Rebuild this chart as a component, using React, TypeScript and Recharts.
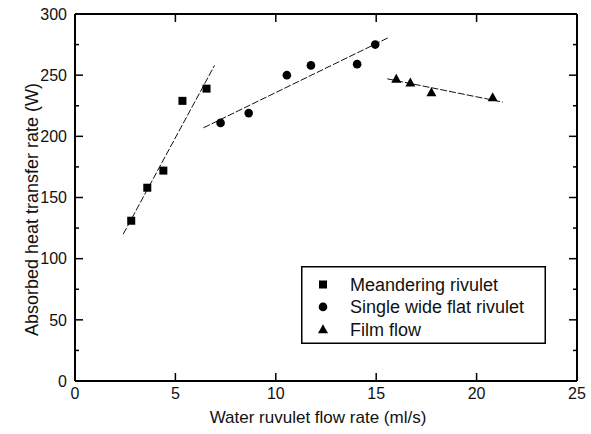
import { ScatterChart, Scatter, XAxis, YAxis, Legend, Label } from 'recharts';

// measured points
const meandering = [
    { x: 2.8, y: 131 },
    { x: 3.6, y: 158 },
    { x: 4.4, y: 172 },
    { x: 5.35, y: 229 },
    { x: 6.55, y: 239 },
];
const singleWide = [
    { x: 7.25, y: 211 },
    { x: 8.65, y: 219 },
    { x: 10.55, y: 250 },
    { x: 11.75, y: 258 },
    { x: 14.05, y: 259 },
    { x: 14.95, y: 275 },
];
const filmFlow = [
    { x: 16.0, y: 247 },
    { x: 16.7, y: 244 },
    { x: 17.75, y: 236 },
    { x: 20.8, y: 232 },
];

// fitted lines (end points)
const fitMeandering = [{ x: 2.4, y: 120 }, { x: 6.95, y: 258 }];
const fitSingleWide = [{ x: 6.4, y: 207 }, { x: 15.65, y: 281 }];
const fitFilm = [{ x: 15.55, y: 247 }, { x: 21.3, y: 228 }];

const xTicks = [0, 5, 10, 15, 20, 25];
const yTicks = [0, 25, 50, 75, 100, 125, 150, 175, 200, 225, 250, 275, 300];

const legendItems = [
    { name: 'Meandering rivulet', shape: 'square' },
    { name: 'Single wide flat rivulet', shape: 'circle' },
    { name: 'Film flow', shape: 'triangle' },
];

const FONT = 'Arial, "Liberation Sans", sans-serif';

function Marker({ kind, cx, cy }: { kind: string; cx: number; cy: number }) {
    if (kind === 'square') return <rect x={cx - 4} y={cy - 4} width={8} height={8} fill="#000" />;
    if (kind === 'circle') return <circle cx={cx} cy={cy} r={4.3} fill="#000" />;
    return <polygon points={`${cx - 5},${cy + 4} ${cx + 5},${cy + 4} ${cx},${cy - 5}`} fill="#000" />;
}

// ticks point into the plot, like the original
const LeftTick = (props: any) => {
    const { x, y, payload } = props;
    const major = payload.value % 50 === 0;
    return (
        <g>
            <line x1={x} y1={y} x2={x + (major ? 8 : 4)} y2={y} stroke="#000" strokeWidth={1.5} />
            {major && (
                <text x={x - 8} y={y} dy="0.36em" textAnchor="end" fontSize={16} fontFamily={FONT} fill="#111">
                    {payload.value}
                </text>
            )}
        </g>
    );
};

const RightTick = (props: any) => {
    const { x, y, payload } = props;
    const major = payload.value % 50 === 0;
    return <line x1={x} y1={y} x2={x - (major ? 8 : 4)} y2={y} stroke="#000" strokeWidth={1.5} />;
};

const BottomTick = (props: any) => {
    const { x, y, payload } = props;
    return (
        <g>
            <line x1={x} y1={y} x2={x} y2={y - 8} stroke="#000" strokeWidth={1.5} />
            <text x={x} y={y + 12.5} dy="0.36em" textAnchor="middle" fontSize={16} fontFamily={FONT} fill="#111">
                {payload.value}
            </text>
        </g>
    );
};

const TopTick = (props: any) => {
    const { x, y } = props;
    return <line x1={x} y1={y} x2={x} y2={y + 8} stroke="#000" strokeWidth={1.5} />;
};

const LegendBox = () => (
    <svg width={245} height={78} style={{ display: 'block' }}>
        <rect x={0.75} y={0.75} width={243.5} height={76.5} fill="#fff" stroke="#000" strokeWidth={1.5} />
        {legendItems.map((item, i) => (
            <g key={item.name}>
                <Marker kind={item.shape} cx={22} cy={18.5 + i * 22.4} />
                <text x={49} y={18.5 + i * 22.4} dy="0.36em" fontSize={18} fontFamily={FONT} fill="#111">
                    {item.name}
                </text>
            </g>
        ))}
    </svg>
);

const fitLine = { stroke: '#111', strokeWidth: 1, strokeDasharray: '7 2' };
const noShape = () => <g />;

export default function App() {
    return (
        <div style={{ position: 'absolute', left: 0, top: 0, background: '#fff' }}>
            <ScatterChart width={591} height={434} margin={{ top: 13, right: 13, bottom: 23, left: 15 }}>
                <XAxis
                    dataKey="x"
                    type="number"
                    domain={[0, 25]}
                    ticks={xTicks}
                    height={30}
                    tickSize={0}
                    tickMargin={0}
                    tickLine={false}
                    axisLine={{ stroke: '#000', strokeWidth: 2 }}
                    tick={BottomTick}
                    allowDataOverflow
                >
                    <Label
                        content={(p: any) => (
                            <text
                                x={p.viewBox.x + p.viewBox.width / 2 - 8}
                                y={417}
                                dy="0.36em"
                                textAnchor="middle"
                                fontSize={17}
                                fontFamily={FONT}
                                fill="#111"
                            >
                                Water ruvulet flow rate (ml/s)
                            </text>
                        )}
                    />
                </XAxis>
                <XAxis
                    xAxisId="top"
                    orientation="top"
                    dataKey="x"
                    type="number"
                    domain={[0, 25]}
                    ticks={xTicks}
                    height={1}
                    tickSize={0}
                    tickMargin={0}
                    tickLine={false}
                    axisLine={{ stroke: '#000', strokeWidth: 2 }}
                    tick={TopTick}
                    allowDataOverflow
                />
                <YAxis
                    dataKey="y"
                    type="number"
                    domain={[0, 300]}
                    ticks={yTicks}
                    width={60}
                    tickSize={0}
                    tickMargin={0}
                    tickLine={false}
                    axisLine={{ stroke: '#000', strokeWidth: 2 }}
                    tick={LeftTick}
                    interval={0}
                    allowDataOverflow
                >
                    <Label
                        content={(p: any) => {
                            const cx = 32;
                            const cy = p.viewBox.y + p.viewBox.height / 2 + 12;
                            return (
                                <text
                                    x={cx}
                                    y={cy}
                                    dy="0.36em"
                                    textAnchor="middle"
                                    transform={`rotate(-90 ${cx} ${cy})`}
                                    fontSize={18}
                                    fontFamily={FONT}
                                    fill="#111"
                                >
                                    Absorbed heat transfer rate (W)
                                </text>
                            );
                        }}
                    />
                </YAxis>
                <YAxis
                    yAxisId="right"
                    orientation="right"
                    dataKey="y"
                    type="number"
                    domain={[0, 300]}
                    ticks={yTicks}
                    width={1}
                    tickSize={0}
                    tickMargin={0}
                    tickLine={false}
                    axisLine={{ stroke: '#000', strokeWidth: 2 }}
                    tick={RightTick}
                    interval={0}
                    allowDataOverflow
                />
                <Scatter data={fitMeandering} line={fitLine} shape={noShape} legendType="none" isAnimationActive={false} />
                <Scatter data={fitSingleWide} line={fitLine} shape={noShape} legendType="none" isAnimationActive={false} />
                <Scatter
                    data={fitFilm}
                    xAxisId="top"
                    yAxisId="right"
                    line={fitLine}
                    shape={noShape}
                    legendType="none"
                    isAnimationActive={false}
                />
                <Scatter
                    name="Meandering rivulet"
                    data={meandering}
                    shape={(p: any) => <Marker kind="square" cx={p.cx} cy={p.cy} />}
                    isAnimationActive={false}
                />
                <Scatter
                    name="Single wide flat rivulet"
                    data={singleWide}
                    shape={(p: any) => <Marker kind="circle" cx={p.cx} cy={p.cy} />}
                    isAnimationActive={false}
                />
                <Scatter
                    name="Film flow"
                    data={filmFlow}
                    shape={(p: any) => <Marker kind="triangle" cx={p.cx} cy={p.cy} />}
                    isAnimationActive={false}
                />
                <Legend
                    layout="vertical"
                    align="center"
                    verticalAlign="middle"
                    wrapperStyle={{ left: 301, top: 266, width: 245, height: 78 }}
                    content={LegendBox}
                />
            </ScatterChart>
        </div>
    );
}
